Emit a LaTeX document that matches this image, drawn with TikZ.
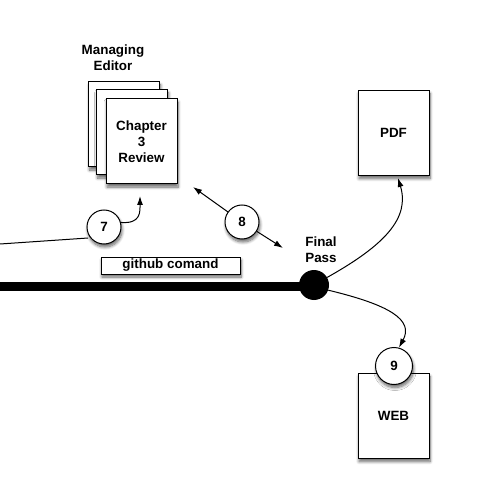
\documentclass[tikz,border=0pt]{standalone}
\usepackage{fontspec}
\setmainfont{Liberation Sans}
\usepackage{tikz}
\usetikzlibrary{positioning,arrows.meta,shadows.blur}

\tikzset{
	soft/.style={blur shadow={shadow xshift=1pt,shadow yshift=-3pt,shadow blur radius=3pt,
		shadow blur steps=8,shadow opacity=60}},
	page/.style={draw,fill=white,line width=1pt,minimum width=71pt,minimum height=85pt,
		align=center,inner sep=0pt,soft},
	num/.style={circle,draw,fill=white,line width=1pt,minimum size=34pt,inner sep=0pt,soft},
	tip/.style={-{Latex[length=9pt,width=6pt]},line width=1pt},
}

\begin{document}
\begin{tikzpicture}[x=1pt,y=-1pt,font=\fontsize{13.4}{16}\selectfont\bfseries]
			\useasboundingbox (0,0) rectangle (500,486);
			% free ends
			\coordinate (rail) at (0,286);
			\coordinate (feed) at (0,244);
			\coordinate (tipa) at (193,187);
			\coordinate (tipb) at (283,248);
			% managing editor stack
			\node[align=center] (editor) at (113,58) {Managing\\Editor};
			\node[page] (back) at (124,124.5) {};
			\node[page] (mid) at (132,132.5) {};
			\node[page] (chap) at (141.5,141.5) {Chapter\\3\\Review};
			% outputs
			\node[page] (pdf) at (393.5,133) {PDF};
			\node[page] (web) at (393.5,416) {WEB};
			% main line
			\node[draw,fill=white,line width=1pt,minimum width=139pt,minimum height=17pt,inner sep=0pt,soft] (cmd) at (170.5,265.5) {github comand};
			\draw[line width=9pt] (rail) -- (314,286);
			\node[circle,fill=black,minimum size=30pt,inner sep=0pt] (dot) at (314,285) {};
			\node[align=center] (final) at (321,250) {Final\\Pass};
			% steps
			\draw[line width=1pt] (feed) -- (88,238);
			\node[num] (c7) at (104,227) {7};
			\node[num] (c8) at (242,222) {8};
			\node[num,minimum size=37pt] (c9) at (394,366) {9};
			% connectors
			\draw[tip] (c7.15) .. controls (141,224) and (140,212) .. (140,196);
			\draw[tip] (c8) -- (tipa);
			\draw[tip] (c8) -- (tipb);
			\draw[tip] (dot.30) .. controls (385,245) and (410,218) .. ([xshift=4.5pt,yshift=-2pt]pdf.south);
			\draw[tip] (dot.-20) .. controls (390,305) and (414,320) .. (c9.75);
		\end{tikzpicture}
\end{document}
